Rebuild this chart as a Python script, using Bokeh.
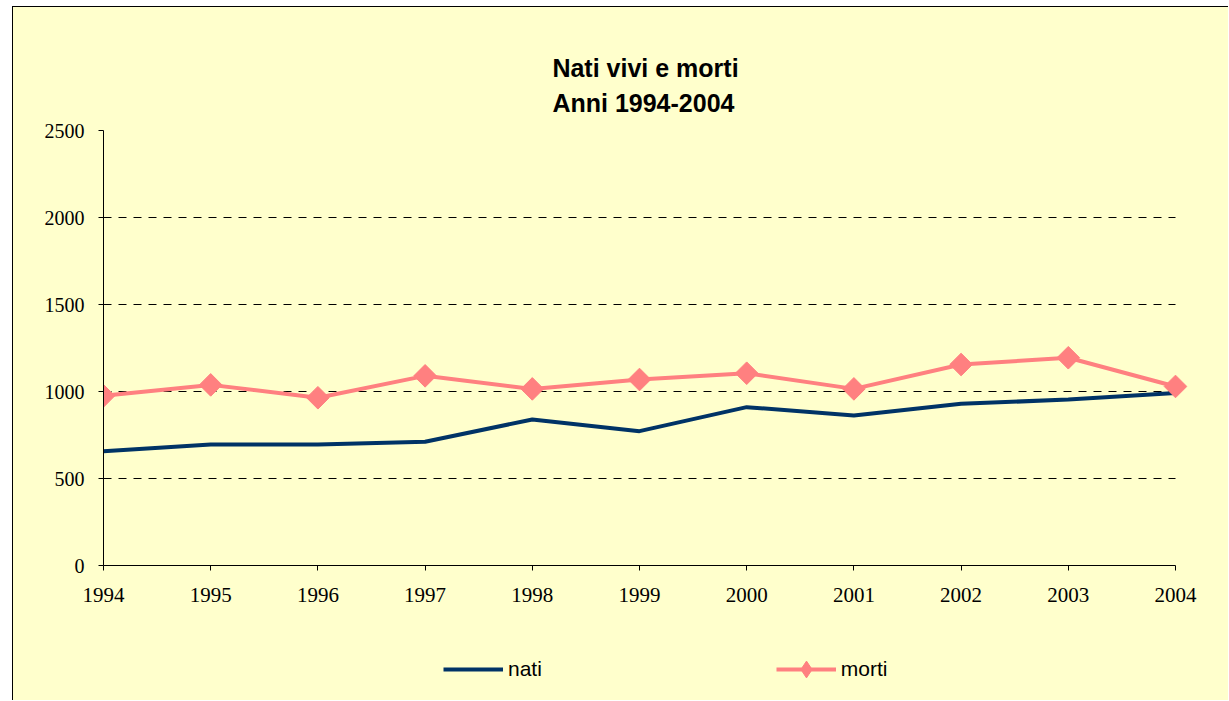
from bokeh.plotting import figure
from bokeh.layouts import column
from bokeh.models import Range1d, FixedTicker, Title, Legend, LegendItem, ColumnDataSource
from bokeh.embed import file_html
from bokeh.resources import INLINE
import math

years = [1994, 1995, 1996, 1997, 1998, 1999, 2000, 2001, 2002, 2003, 2004]
nati = [657, 695, 695, 711, 839, 772, 910, 862, 929, 954, 992]
morti = [975, 1038, 964, 1090, 1015, 1069, 1105, 1015, 1155, 1194, 1029]
y_ticks = [0, 500, 1000, 1500, 2000, 2500]
title_text = "Nati vivi e morti\nAnni 1994-2004"

BG = "#FFFFCC"
NATI_C = "#003366"
MORTI_C = "#FF8080"
PAD = 0.112  # room on the right so the last marker is not clipped

src = ColumnDataSource(data=dict(year=years, nati=nati, morti=morti))

p = figure(width=1215, height=618, output_backend="svg", toolbar_location=None,
           x_range=Range1d(years[0], years[-1] + PAD), y_range=Range1d(0, 2500),
           min_border_left=90, min_border_right=41, min_border_top=123, min_border_bottom=60)
p.title = None
p.background_fill_color = BG
p.border_fill_color = BG
p.outline_line_color = None

p.add_layout(Title(text=title_text, align="center", text_font="Liberation Sans",
                   text_font_size="25px", text_font_style="bold", text_color="black",
                   text_line_height=1.25, standoff=27), "above")

# axes
p.xaxis.ticker = FixedTicker(ticks=years)
p.yaxis.ticker = FixedTicker(ticks=y_ticks)
p.xaxis.bounds = (years[0], years[-1])
for ax in (p.xaxis, p.yaxis):
    ax.axis_line_color = "black"
    ax.axis_line_width = 1
    ax.major_tick_line_color = "black"
    ax.major_tick_in = 0
    ax.major_tick_out = 5
    ax.minor_tick_line_color = None
    ax.major_label_text_font = "Liberation Serif"
    ax.major_label_text_color = "black"
p.xaxis.major_label_text_font_size = "21px"
p.yaxis.major_label_text_font_size = "20px"
p.xaxis.major_label_standoff = 17
p.yaxis.major_label_standoff = 14

p.xgrid.grid_line_color = None
g = p.ygrid[0]
g.ticker = FixedTicker(ticks=y_ticks[1:])
g.grid_line_color = "black"
g.grid_line_dash = "8 7"
g.grid_line_width = 1
if "cross_bounds" in g.properties():
    g.cross_bounds = (years[0], years[-1])

p.line("year", "nati", source=src, line_color=NATI_C, line_width=4)
p.line("year", "morti", source=src, line_color=MORTI_C, line_width=4)
p.scatter("year", "morti", source=src, marker="square", size=16, angle=math.pi / 4,
          fill_color=MORTI_C, line_color=MORTI_C)

# legend strip under the chart (same series, out of its visible range)
lf = figure(width=1215, height=75, output_backend="svg", toolbar_location=None,
            x_range=p.x_range, y_range=Range1d(-2, -1),
            min_border_left=0, min_border_right=0, min_border_top=0, min_border_bottom=0)
lf.title = None
lf.axis.visible = False
lf.grid.visible = False
lf.background_fill_color = BG
lf.border_fill_color = BG
lf.outline_line_color = None
l1 = lf.line("year", "nati", source=src, line_color=NATI_C, line_width=4)
l2 = lf.line("year", "morti", source=src, line_color=MORTI_C, line_width=4)
l3 = lf.scatter("year", "morti", source=src, marker="diamond", size=16,
                fill_color=MORTI_C, line_color=MORTI_C)

legend = Legend(items=[LegendItem(label="nati", renderers=[l1]),
                       LegendItem(label="morti", renderers=[l2, l3])],
                orientation="horizontal", location=(340, 10),
                glyph_width=60, glyph_height=42, label_standoff=5, spacing=234,
                padding=0, margin=0, border_line_color=None,
                background_fill_alpha=0,
                label_text_font="Liberation Sans", label_text_font_size="21px",
                label_text_color="black")
lf.add_layout(legend, "center")

layout = column(p, lf, spacing=0)
layout.margin = (6, 0, 0, 12)
layout.styles = {"border-left": "1px solid black", "border-top": "1px solid black",
                 "background-color": BG}

open("out.html", "w").write(file_html(layout, INLINE))
